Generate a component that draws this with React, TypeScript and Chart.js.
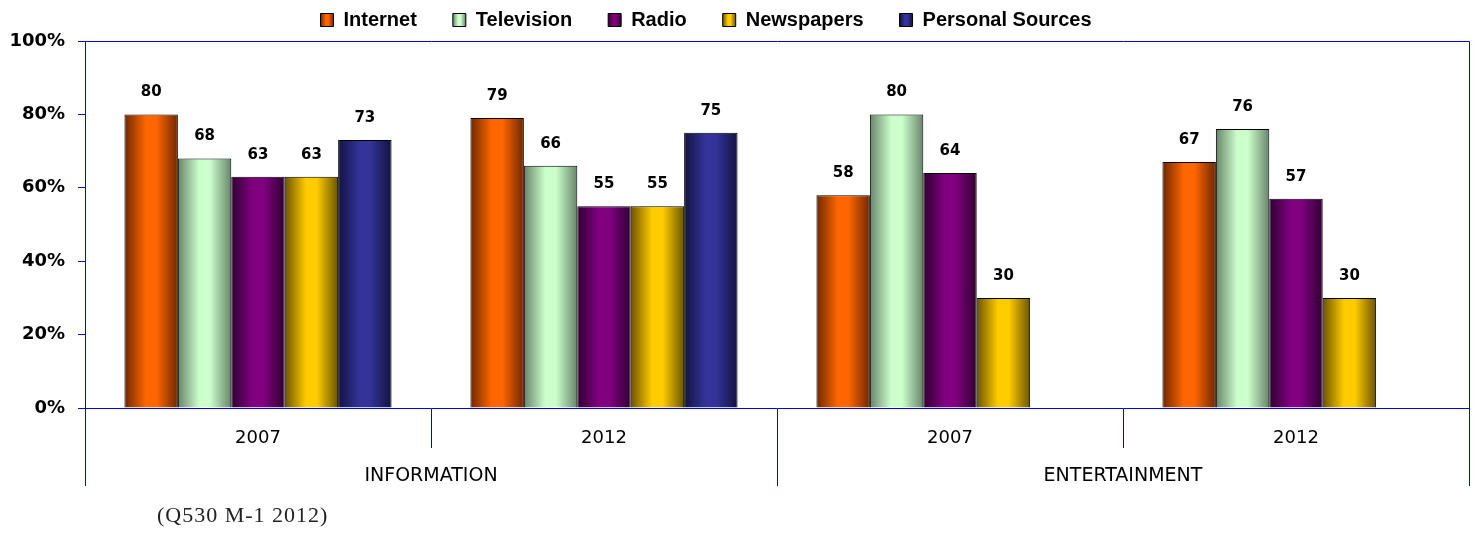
import React, { useEffect, useRef } from 'react';
import { Chart, registerables } from 'chart.js';

Chart.register(...registerables);

// ---- data ----
const years = ['2007', '2012', '2007', '2012'];
const groups = ['INFORMATION', 'ENTERTAINMENT'];
const seriesNames = ['Internet', 'Television', 'Radio', 'Newspapers', 'Personal Sources'];
const internet = [80, 79, 58, 67];
const television = [68, 66, 80, 76];
const radio = [63, 55, 64, 57];
const newspapers = [63, 55, 30, 30];
const personalSources: (number | null)[] = [73, 75, null, null];
const yTicks = [0, 20, 40, 60, 80, 100];
const footnote = '(Q530 M-1 2012)';

// ---- styles ----
const lightColors = ['#ff6600', '#ccffcc', '#800080', '#ffcc00', '#333399'];
const darkColors = ['#6e2700', '#67846a', '#300030', '#6b5400', '#131340'];
const BLUE = '#0000ee';
const SANS = '"DejaVu Sans", Verdana, sans-serif';
const ARIAL = '"Liberation Sans", Arial, sans-serif';

function makeGrad(ctx: CanvasRenderingContext2D, x0: number, x1: number, idx: number) {
  const g = ctx.createLinearGradient(x0, 0, x1, 0);
  g.addColorStop(0, darkColors[idx]);
  g.addColorStop(0.4, lightColors[idx]);
  g.addColorStop(0.6, lightColors[idx]);
  g.addColorStop(1, darkColors[idx]);
  return g;
}

const gradientPlugin = {
  id: 'barGradient',
  beforeDatasetsDraw(chart: any) {
    const ctx = chart.ctx;
    chart.data.datasets.forEach((ds: any, di: number) => {
      const meta = chart.getDatasetMeta(di);
      meta.data.forEach((el: any, i: number) => {
        if (ds.data[i] == null) return;
        const w = el.width;
        if (!isFinite(el.x) || !isFinite(w)) return;
        const x0 = el.x - w / 2;
        el.options = Object.assign({}, el.options, { backgroundColor: makeGrad(ctx, x0, x0 + w, di) });
      });
    });
  },
};

const labelPlugin = {
  id: 'valueLabels',
  afterDatasetsDraw(chart: any) {
    const ctx = chart.ctx;
    ctx.save();
    ctx.font = `bold 15px ${SANS}`;
    ctx.fillStyle = '#000';
    ctx.textAlign = 'center';
    ctx.textBaseline = 'middle';
    chart.data.datasets.forEach((ds: any, di: number) => {
      const meta = chart.getDatasetMeta(di);
      meta.data.forEach((el: any, i: number) => {
        const v = ds.data[i];
        if (v == null) return;
        ctx.fillText(String(v), el.x, el.y - 22);
      });
    });
    ctx.restore();
  },
};

const borderPlugin = {
  id: 'plotBorder',
  afterDraw(chart: any) {
    const { left, right, top, bottom } = chart.chartArea;
    const a = (v: number) => Math.round(v - 0.5) + 0.5;
    const ctx = chart.ctx;
    ctx.save();
    ctx.strokeStyle = BLUE;
    ctx.lineWidth = 1;
    ctx.beginPath();
    ctx.moveTo(a(left), a(bottom));
    ctx.lineTo(a(left), a(top));
    ctx.lineTo(a(right), a(top));
    ctx.lineTo(a(right), a(bottom));
    ctx.stroke();
    ctx.restore();
  },
};

const legendPlugin = {
  id: 'legendTweak',
  afterLayout(chart: any) {
    const lg = chart.legend;
    if (!lg) return;
    lg.top -= 1;
    lg.bottom -= 1;
    lg.left += 5;
    lg.right = lg.left + 1402;
    lg.width = 1402;
  },
  beforeDraw(chart: any) {
    const lg = chart.legend;
    if (!lg || !lg.legendItems || !lg.legendHitBoxes) return;
    lg.legendItems.forEach((item: any, i: number) => {
      const hb = lg.legendHitBoxes[i];
      if (!hb) return;
      item.fillStyle = makeGrad(chart.ctx, hb.left, hb.left + 13, item.datasetIndex);
    });
  },
};

const seriesData = [internet, television, radio, newspapers, personalSources];

export default function App() {
  const ref = useRef<HTMLCanvasElement>(null);
  useEffect(() => {
    Chart.defaults.font.family = SANS;
    const chart = new Chart(ref.current as HTMLCanvasElement, {
      type: 'bar',
      data: {
        labels: years,
        datasets: seriesNames.map((name, i) => ({
          label: name,
          data: seriesData[i] as any,
          backgroundColor: lightColors[i],
          borderColor: '#000',
          borderWidth: 1,
          categoryPercentage: 0.772,
          barPercentage: 1,
          xAxisID: 'x',
          yAxisID: 'y',
        })),
      },
      options: {
        animation: false,
        responsive: false,
        layout: { padding: { top: -25, right: 6, bottom: 47, left: 0 } },
        plugins: {
          tooltip: { enabled: false },
          legend: {
            position: 'top',
            labels: {
              boxWidth: 13,
              boxHeight: 13,
              padding: 36,
              color: '#000',
              font: { family: ARIAL, size: 20, weight: 'bold' },
            },
          },
        },
        scales: {
          x: {
            type: 'category',
            position: 'bottom',
            weight: 0,
            offset: true,
            grid: { offset: true, drawOnChartArea: false, tickLength: 40, color: BLUE, lineWidth: 1 },
            border: { display: true, color: BLUE, width: 1 },
            ticks: {
              font: { family: SANS, size: 18 },
              color: '#000',
              mirror: true,
              padding: -41,
              maxRotation: 0,
              autoSkip: false,
            },
            afterFit: (s: any) => { s.height = 20; },
          },
          x2: {
            type: 'category',
            position: 'bottom',
            weight: 1,
            offset: true,
            labels: groups,
            grid: { offset: true, drawOnChartArea: false, tickLength: 58, color: BLUE, lineWidth: 1 },
            border: { display: false },
            ticks: { font: { family: SANS, size: 19 }, color: '#000', padding: -21, maxRotation: 0, autoSkip: false },
            afterFit: (s: any) => { s.height = 58; },
          },
          y: {
            min: 0,
            max: 100,
            afterBuildTicks: (s: any) => { s.ticks = yTicks.map((v) => ({ value: v })); },
            grid: { drawOnChartArea: false, tickLength: 7, color: BLUE },
            border: { color: BLUE, width: 1 },
            ticks: {
              callback: (v: any) => v + '%',
              font: { family: SANS, size: 18, weight: 'bold' },
              color: '#000',
              padding: 13,
            },
            afterFit: (s: any) => { s.width = 85; },
          },
        },
      } as any,
      plugins: [gradientPlugin, labelPlugin, borderPlugin, legendPlugin],
    });
    return () => chart.destroy();
  }, []);

  return (
    <div style={{ position: 'absolute', left: 0, top: 0, width: 1475, height: 533, background: '#fff' }}>
      <canvas ref={ref} width={1475} height={533} style={{ display: 'block' }} />
      <div
        style={{
          position: 'absolute',
          left: 157,
          top: 504,
          fontFamily: '"Liberation Serif", "Times New Roman", serif',
          fontSize: 22,
          lineHeight: '22px',
          letterSpacing: 1,
          color: '#222',
          whiteSpace: 'nowrap',
        }}
      >
        {footnote}
      </div>
    </div>
  );
}
